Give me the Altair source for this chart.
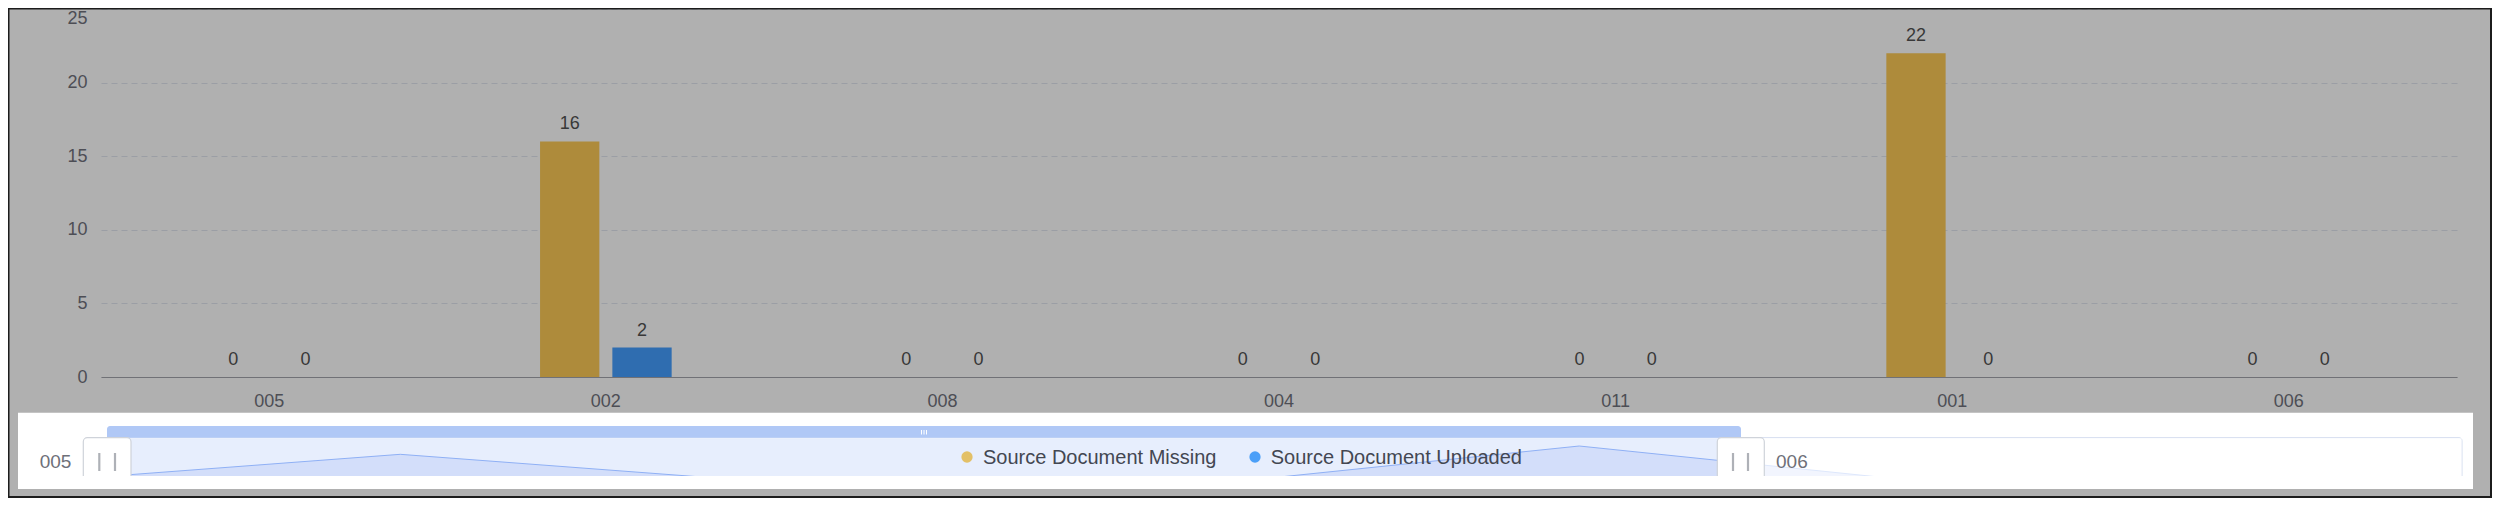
import altair as alt
import pandas as pd

# ---------------- data ----------------
categories = ["005", "002", "008", "004", "011", "001", "006"]
series_names = ["Source Document Missing", "Source Document Uploaded"]
missing_values = [0, 16, 0, 0, 0, 22, 0]
uploaded_values = [0, 2, 0, 0, 0, 0, 0]
y_tick_values = [0, 5, 10, 15, 20, 25]

bar_colors = ["#ae8b3b", "#2f6db0"]
legend_colors = ["#e3c067", "#4b9ff8"]

records = []
for cat, m, u in zip(categories, missing_values, uploaded_values):
    records.append({"category": cat, "series": series_names[0], "value": m})
    records.append({"category": cat, "series": series_names[1], "value": u})
bars_df = pd.DataFrame(records)
shadow_df = pd.DataFrame({"idx": list(range(len(categories))),
                          "category": categories,
                          "value": missing_values})
one = pd.DataFrame({"k": [0]})

# ---------------- layout ----------------
FONT = "Liberation Sans"
PLOT_W, PLOT_H = 2356, 368
PAD_L, PAD_T = 93, 1
TOTAL_W, TOTAL_H = 2484, 490
OX, OY = 8 + PAD_L, 8 + PAD_T  # page position of the plot origin


def X(p):
    return p - OX


def Y(p):
    return p - OY


def rect(x1, x2, y1, y2, **kw):
    return alt.Chart(one).mark_rect(**kw).encode(
        x=alt.value(X(x1)), x2=alt.value(X(x2)),
        y=alt.value(Y(y1)), y2=alt.value(Y(y2)))


def rule(x1, x2, y1, y2, **kw):
    return alt.Chart(one).mark_rule(**kw).encode(
        x=alt.value(X(x1)), x2=alt.value(X(x2)),
        y=alt.value(Y(y1)), y2=alt.value(Y(y2)))


# ---------------- main bars ----------------
x_band = alt.X(
    "category:N", sort=categories,
    scale=alt.Scale(domain=categories, paddingInner=0.609, paddingOuter=0.3045),
    axis=alt.Axis(title=None, labelAngle=0, labelFontSize=18, labelFont=FONT,
                  labelColor="#4d4e55", labelPadding=15, ticks=False, tickSize=0,
                  domain=True, domainColor="#707176", domainWidth=1, grid=False))
x_off = alt.XOffset(
    "series:N", sort=series_names,
    scale=alt.Scale(domain=series_names, paddingInner=0.18, paddingOuter=0))
top_tick = y_tick_values[-1]
y_lin = alt.Y(
    "value:Q",
    scale=alt.Scale(domain=[0, top_tick], nice=False, zero=True),
    axis=alt.Axis(title=None, values=y_tick_values, labelFontSize=18, labelFont=FONT,
                  labelColor="#4d4e55", labelPadding=14, ticks=False, tickSize=0,
                  labelOffset={"condition": {"test": f"datum.value == {top_tick}",
                                             "value": 9},
                               "value": 0},
                  domain=False, grid=True, gridColor="#9b9ea5", gridDash=[6, 4],
                  gridWidth=1))

bars = alt.Chart(bars_df).mark_bar().encode(
    x=x_band, xOffset=x_off, y=y_lin,
    color=alt.Color("series:N", scale=alt.Scale(domain=series_names, range=bar_colors),
                    legend=None))

value_labels = alt.Chart(bars_df).mark_text(
    dy=-12, baseline="alphabetic", align="center", fontSize=18, font=FONT,
    color="#383838").encode(
    x=alt.X("category:N", sort=categories),
    xOffset=alt.XOffset("series:N", sort=series_names),
    y=alt.Y("value:Q"),
    text=alt.Text("value:Q", format="d"))

main = alt.layer(bars, value_labels)

# ---------------- data zoom slider ----------------
sx = alt.X("idx:Q", scale=alt.Scale(domain=[0, len(categories) - 1],
                                    range=[X(105.5), X(1874)], nice=False, zero=False),
           axis=None)
sy = alt.Y("value:Q", scale=alt.Scale(domain=[0, max(missing_values)],
                                      range=[Y(476.5), Y(446)], nice=False, zero=True),
           axis=None)
shadow = alt.layer(
    alt.Chart(shadow_df).mark_area(color="#d3defa", opacity=1).encode(x=sx, y=sy),
    alt.Chart(shadow_df).mark_line(color="#8fb0f5", strokeWidth=1).encode(x=sx, y=sy),
)

white_panel = rect(18, 2473, 412.7, 489, fill="#ffffff")
frame = rect(107, 2462, 437.7, 484, fill="#ffffff", stroke="#d2dbee", strokeWidth=1,
             cornerRadius=3)
selected_fill = rect(107, 1741, 438.2, 484, fill="#e7eefd")
unselected_veil = rect(1741.5, 2461.5, 438.3, 484, fill="#ffffff", opacity=0.7)
top_bar = rect(107, 1741, 426, 437.7, fill="#b0c8f6",
               cornerRadiusTopLeft=3, cornerRadiusTopRight=3)
grip = [rule(gx, gx, 430, 434.5, color="#ffffff", strokeWidth=1)
        for gx in (921.5, 924, 926.5)]


def handle(x1, x2, l1, l2):
    return [
        rect(x1, x2, 437.7, 486, fill="#ffffff", stroke="#cfd3da", strokeWidth=1.2,
             cornerRadius=4),
        rule(l1, l1, 453, 471, color="#aeb1b7", strokeWidth=2.2),
        rule(l2, l2, 453, 471, color="#aeb1b7", strokeWidth=2.2),
    ]


left_handle = handle(83.3, 131, 99.3, 115)
right_handle = handle(1717.3, 1764.3, 1733, 1748)
cover_strip = rect(18, 2473, 476, 489, fill="#ffffff")

start_label = alt.Chart(pd.DataFrame({"label": [categories[0]]})).mark_text(
    align="center", baseline="alphabetic", fontSize=19, font=FONT, color="#6e7079"
).encode(x=alt.value(X(55.5)), y=alt.value(Y(468.3)), text="label:N")
end_label = alt.Chart(pd.DataFrame({"label": [categories[-1]]})).mark_text(
    align="left", baseline="alphabetic", fontSize=19, font=FONT, color="#6e7079"
).encode(x=alt.value(X(1776)), y=alt.value(Y(468.3)), text="label:N")

# ---------------- legend ----------------
legend_dot_x = [967, 1255]
legend_text_x = [983, 1270.7]
legend_layers = []
for i, name in enumerate(series_names):
    d = alt.Chart(pd.DataFrame({"series": [name]}))
    legend_layers.append(d.mark_circle(size=127, opacity=1, color=legend_colors[i]).encode(
        x=alt.value(X(legend_dot_x[i])), y=alt.value(Y(457))))
    legend_layers.append(d.mark_text(
        align="left", baseline="alphabetic", fontSize=20, font=FONT, color="#434752"
    ).encode(x=alt.value(X(legend_text_x[i])), y=alt.value(Y(464.3)), text="series:N"))

# ---------------- screenshot frame ----------------
borders = [
    rule(2491, 2491, 8, 498, color="#1c1c1c", strokeWidth=2),
    rule(8, 2492, 497, 497, color="#1c1c1c", strokeWidth=2),
    rule(8.75, 8.75, 8, 498, color="#1c1c1c", strokeWidth=1.5),
    rule(8, 2492, 8.75, 8.75, color="#1c1c1c", strokeWidth=1.5),
]

layers = ([main, white_panel, frame, selected_fill, shadow, unselected_veil, top_bar]
          + grip + left_handle + right_handle + [cover_strip, start_label, end_label]
          + legend_layers + borders)

chart = alt.layer(*layers).resolve_scale(
    x="independent", y="independent"
).properties(
    width=PLOT_W, height=PLOT_H, background="#b0b0b0",
    padding={"left": PAD_L, "top": PAD_T,
             "right": TOTAL_W - PAD_L - PLOT_W, "bottom": TOTAL_H - PAD_T - PLOT_H},
    autosize=alt.AutoSizeParams(type="none"),
).configure_view(strokeWidth=0)

chart.save("out.html", embed_options={"renderer": "svg", "actions": False})
